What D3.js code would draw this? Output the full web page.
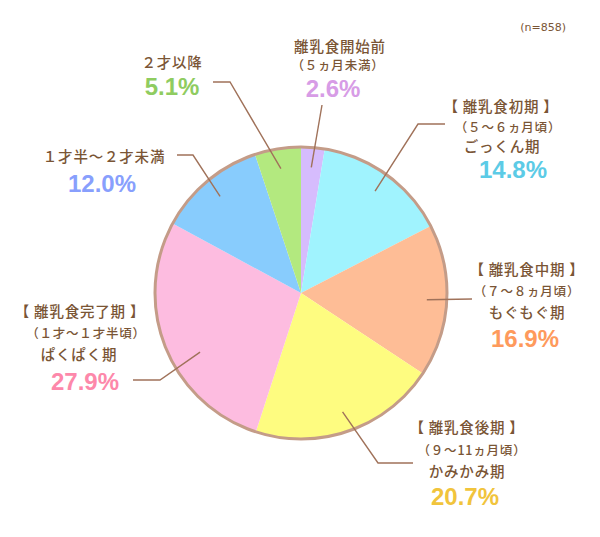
<!DOCTYPE html>
<html><head><meta charset="utf-8">
<script src="https://cdn.jsdelivr.net/npm/d3@7"></script>
<style>
html,body{margin:0;padding:0;background:#fff;}
svg{display:block;}
</style></head>
<body>
<svg id="c" width="600" height="537"></svg>
<script>
// ---- data ----
const categories = ["離乳食開始前","離乳食初期","離乳食中期","離乳食後期","離乳食完了期","１才半～２才未満","２才以降"];
const values = [2.6, 14.8, 16.9, 20.7, 27.9, 12.0, 5.1];
const labelLines = [
  ["離乳食開始前","（５ヵ月未満）"],
  ["【 離乳食初期 】","（５～６ヵ月頃）","ごっくん期"],
  ["【 離乳食中期 】","（７～８ヵ月頃）","もぐもぐ期"],
  ["【 離乳食後期 】","（９～11ヵ月頃）","かみかみ期"],
  ["【 離乳食完了期 】","（１才～１才半頃）","ぱくぱく期"],
  ["１才半～２才未満"],
  ["２才以降"]
];
const sampleNote = "(n=858)";

// ---- styles / layout ----
const sliceColors = ["#d6bcfd","#a0f3fe","#febd96","#fefc80","#fdbce0","#88ccfd","#b3e97f"];
const pctColors   = ["#d79ce6","#5ccbe6","#fe9a5c","#f1c43c","#fd88aa","#889ffd","#8fcc60"];
const textColor = "#7a5535";
const lineColor = "#a0725a";
const cx = 301, cy = 293, R = 146;

// label layout: line baselines / centers, leader elbow points, leader inner tweaks
const layout = [
  {x:[340,338], y:[52,70], px:333, py:97, elbow:[[322,105]]},
  {x:[501,508,502], y:[112,132,152], px:513, py:178, elbow:[[418,124],[445,124]]},
  {x:[527,527,527], y:[275,296,318], px:525, py:347, elbow:[[472,299]]},
  {x:[467,472,467], y:[433,455,477], px:465, py:505, elbow:[[378,463],[413,463]]},
  {x:[80,86,79], y:[317,338,360], px:85, py:390, elbow:[[160,380],[133,380]], dA:-0.15, r:117},
  {x:[104], y:[162], px:102, py:192, elbow:[[193,155],[177,155]]},
  {x:[172], y:[68], px:172, py:95, elbow:[[230,82],[213,82]]}
];

const svg = d3.select("#c");
const g = svg.append("g").attr("transform", `translate(${cx},${cy})`);

const pie = d3.pie().sort(null).value(d => d)(values);
const arc = d3.arc().innerRadius(0).outerRadius(R);

g.selectAll("path.slice").data(pie).join("path")
  .attr("class","slice")
  .attr("d", arc)
  .attr("fill", (d,i) => sliceColors[i]);

g.append("circle").attr("r", R).attr("fill","none")
  .attr("stroke","#c49c88").attr("stroke-width",3);

// leader lines
const line = d3.line();
pie.forEach((d,i) => {
  const L = layout[i];
  const r = L.r || 126;
  const innerArc = d3.arc().innerRadius(r).outerRadius(r);
  const dA = L.dA || 0;
  const c = innerArc.centroid({startAngle:d.startAngle+dA, endAngle:d.endAngle+dA});
  const pts = [[c[0]+cx, c[1]+cy], ...L.elbow];
  svg.append("path").attr("d", line(pts))
    .attr("fill","none").attr("stroke", lineColor).attr("stroke-width",1.4);
});

// labels
const jpFont = "'Noto Sans CJK JP','Noto Sans',sans-serif";
labelLines.forEach((lines,i) => {
  const L = layout[i];
  lines.forEach((t,j) => {
    const isParen = t.startsWith("（");
    svg.append("text")
      .attr("x", L.x[j]).attr("y", L.y[j])
      .attr("text-anchor","middle")
      .attr("font-family", jpFont)
      .attr("font-weight", 500)
      .attr("font-size", isParen ? 12.5 : 14.5)
      .attr("letter-spacing", 0.8)
      .attr("fill", textColor)
      .text(t);
  });
  svg.append("text")
    .attr("x", L.px).attr("y", L.py)
    .attr("text-anchor","middle")
    .attr("font-family","'Liberation Sans',Arial,sans-serif")
    .attr("font-weight","bold")
    .attr("font-size", 24)
    .attr("fill", pctColors[i])
    .text(d3.format(".1f")(values[i]) + "%");
});

svg.append("text").attr("x",566).attr("y",31)
  .attr("text-anchor","end")
  .attr("font-family","'DejaVu Sans',sans-serif")
  .attr("font-size",11)
  .attr("fill",textColor)
  .text(sampleNote);
</script>
</body></html>
